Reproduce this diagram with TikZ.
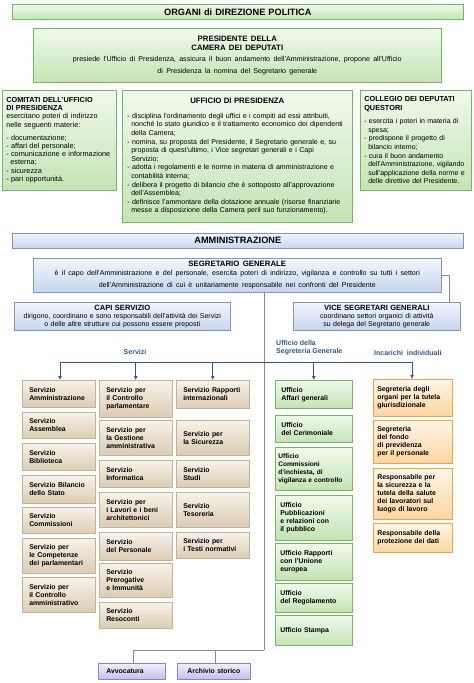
\documentclass[tikz,border=0pt]{standalone}
\usepackage{fontspec}
\setmainfont{Liberation Sans}
\usetikzlibrary{arrows.meta}
\definecolor{gT}{HTML}{F0F9EC}\definecolor{gB}{HTML}{C4E4B4}\definecolor{gD}{HTML}{6DBB5A}
\definecolor{bT}{HTML}{F2F6FC}\definecolor{bB}{HTML}{C6D6EE}\definecolor{bD}{HTML}{2E4F8F}
\definecolor{sT}{HTML}{F7F2EA}\definecolor{sB}{HTML}{DCCCB2}\definecolor{sD}{HTML}{C4B296}
\definecolor{oT}{HTML}{FFF5E6}\definecolor{oB}{HTML}{FCD6A0}\definecolor{oD}{HTML}{F2A040}
\definecolor{pT}{HTML}{F1EEFA}\definecolor{pB}{HTML}{C6BEEA}\definecolor{pD}{HTML}{8C80C8}
\definecolor{ln}{HTML}{2F5597}\definecolor{tr}{HTML}{8A8A8A}
\newcommand\boxfont{\fontsize{6.9}{8}\selectfont\bfseries}
\tikzset{
 gbox/.style={draw=gD,top color=gT,bottom color=gB,line width=0.6pt},
 bbox/.style={draw=bD!60,top color=bT,bottom color=bB,line width=0.6pt},
 sbox/.style={draw=sD,top color=sT,bottom color=sB,line width=0.5pt,font=\boxfont,align=left},
 ggbox/.style={gbox,font=\boxfont,align=left},
 obox/.style={draw=oD,top color=oT,bottom color=oB,line width=0.6pt,font=\boxfont,align=left},
 pbox/.style={draw=pD,top color=pT,bottom color=pB,line width=0.6pt,font=\boxfont,align=left},
 arr/.style={ln,line width=1pt,-{Latex[length=4pt,width=4pt]}},
 lab/.style={ln,font=\fontsize{7}{7.8}\selectfont\bfseries,align=left,inner sep=0pt},
}
\newcommand\mkbox[8][6]{\pgfmathsetmacro\bw{#5-#3}\pgfmathsetmacro\bh{#6-#4}\pgfmathsetmacro\tw{#5-#3-2*#1}%
\node[#2,minimum width=\bw pt,minimum height=\bh pt,text width=\tw pt,inner xsep=#1pt,inner ysep=1pt,anchor=north west] (#7) at (#3,#4) {#8};}
\begin{document}
\begin{tikzpicture}[x=1pt,y=-1pt]
\useasboundingbox (0,0) rectangle (474,683);
\mkbox{gbox,align=center,font=\fontsize{9.2}{10}\selectfont\bfseries}{12}{4}{463}{19}{t1}{ORGANI di DIREZIONE POLITICA}
\mkbox{gbox,align=center}{33}{28}{441}{82}{pres}{\fontsize{7.8}{8.6}\selectfont\bfseries PRESIDENTE DELLA\\CAMERA DEI DEPUTATI\\[2pt]\mdseries\fontsize{7.1}{9}\selectfont presiede l'Ufficio di Presidenza, assicura il buon andamento dell'Amministrazione, propone all'Ufficio\\ di Presidenza la nomina del Segretario generale}
\mkbox[4]{gbox,align=left,font=\fontsize{7}{8.6}\selectfont}{2}{90}{116}{190}{com}{\bfseries\fontsize{7.3}{8.2}\selectfont COMITATI DELL'UFFICIO\\DI PRESIDENZA\\\mdseries esercitano poteri di indirizzo\\nelle seguenti materie:\\[5pt]- documentazione;\\- affari del personale;\\- comunicazione e informazione\\\hspace*{4pt}esterna;\\- sicurezza\\- pari opportunità.}
\mkbox[5]{gbox,align=left,font=\fontsize{7.1}{8.6}\selectfont}{122}{90}{352}{222}{uff}{\hfill{\bfseries\fontsize{7.8}{8}\selectfont UFFICIO DI PRESIDENZA}\hfill\null\\[6pt]
- disciplina l'ordinamento degli uffici e i compiti ad essi attribuiti,\\\hspace*{4pt}nonché lo stato giuridico e il trattamento economico dei dipendenti\\\hspace*{4pt}della Camera;\\
- nomina, su proposta del Presidente, il Segretario generale e, su\\\hspace*{4pt}proposta di quest'ultimo, i Vice segretari generali e i Capi\\\hspace*{4pt}Servizio;\\
- adotta i regolamenti e le norme in materia di amministrazione e\\\hspace*{4pt}contabilità interna;\\
- delibera il progetto di bilancio che è sottoposto all'approvazione\\\hspace*{4pt}dell'Assemblea;\\
- definisce l'ammontare della dotazione annuale (risorse finanziarie\\\hspace*{4pt}messe a disposizione della Camera peril suo funzionamento).}
\mkbox[4]{gbox,align=left,font=\fontsize{7}{8.6}\selectfont}{360}{90}{471}{190}{col}{\bfseries\fontsize{7.3}{8.2}\selectfont COLLEGIO DEI DEPUTATI\\QUESTORI\\[5pt]\mdseries\fontsize{7}{8.6}\selectfont - esercita i poteri in materia di\\\hspace*{4pt}spesa;\\- predispone il progetto di\\\hspace*{4pt}bilancio interno;\\- cura il buon andamento\\\hspace*{4pt}dell'Amministrazione, vigilando\\\hspace*{4pt}sull'applicazione della norme e\\\hspace*{4pt}delle direttive del Presidente.\\[8pt]}
\mkbox{bbox,align=center,font=\fontsize{9.2}{10}\selectfont\bfseries}{12}{233}{463}{248}{t2}{AMMINISTRAZIONE}
\mkbox{bbox,align=center}{33}{258}{441}{292}{seg}{\fontsize{7.8}{8.8}\selectfont\bfseries SEGRETARIO GENERALE\\\mdseries\fontsize{7.1}{8.8}\selectfont è il capo dell'Amministrazione e del personale, esercita poteri di indirizzo, vigilanza e controllo su tutti i settori\\ dell'Amministrazione di cui è unitariamente responsabile nei confronti del Presidente}
\mkbox[3]{bbox,align=center,font=\fontsize{7}{8}\selectfont}{14}{302}{230}{330}{capi}{\bfseries\fontsize{7.6}{8.4}\selectfont CAPI SERVIZIO\\\mdseries\fontsize{7}{8}\selectfont dirigono, coordinano e sono responsabili dell'attività dei Servizi\\o delle altre strutture cui possono essere preposti}
\mkbox[3]{bbox,align=center,font=\fontsize{7}{8}\selectfont}{293}{302}{460}{330}{vice}{\bfseries\fontsize{7.6}{8.4}\selectfont VICE SEGRETARI GENERALI\\\mdseries\fontsize{7}{8}\selectfont coordinano settori organici di attività\\su delega del Segretario generale}
% connectors
\coordinate (sr) at (441,275); \coordinate (sk) at (449,275);
\draw[tr,line width=0.8pt] (sr) -- (sk) -- (vice.north -| sk);
\coordinate (tb) at (264,650);
\draw[tr,line width=0.8pt] (seg.south -| tb) -- (tb);
% services
\mkbox[7]{sbox}{22}{380}{95}{407}{s1}{Servizio\\Amministrazione}
\mkbox[7]{sbox}{22}{412}{95}{438}{s2}{Servizio\\Assemblea}
\mkbox[7]{sbox}{22}{443}{95}{470}{s3}{Servizio\\Biblioteca}
\mkbox[7]{sbox}{22}{475}{95}{503}{s4}{Servizio Bilancio\\dello Stato}
\mkbox[7]{sbox}{22}{507}{95}{533}{s5}{Servizio\\Commissioni}
\mkbox[7]{sbox}{22}{538}{95}{573}{s6}{Servizio per\\le Competenze\\dei parlamentari}
\mkbox[7]{sbox}{22}{577}{95}{612}{s7}{Servizio per\\il Controllo\\amministrativo}
\mkbox[7]{sbox}{99}{380}{172}{417}{c1}{Servizio per\\il Controllo\\parlamentare}
\mkbox[7]{sbox}{99}{420}{172}{455}{c2}{Servizio per\\la Gestione\\amministrativa}
\mkbox[7]{sbox}{99}{460}{172}{487}{c3}{Servizio\\Informatica}
\mkbox[7]{sbox}{99}{492}{172}{527}{c4}{Servizio per\\i Lavori e i beni\\architettonici}
\mkbox[7]{sbox}{99}{532}{172}{560}{c5}{Servizio\\del Personale}
\mkbox[7]{sbox}{99}{563}{172}{597}{c6}{Servizio\\Prerogative\\e Immunità}
\mkbox[7]{sbox}{99}{602}{172}{628}{c7}{Servizio\\Resoconti}
\mkbox[7]{sbox}{176}{380}{249}{408}{d1}{Servizio Rapporti\\internazionali}
\mkbox[7]{sbox}{176}{420}{249}{455}{d2}{Servizio per\\la Sicurezza}
\mkbox[7]{sbox}{176}{460}{249}{487}{d3}{Servizio\\Studi}
\mkbox[7]{sbox}{176}{492}{249}{527}{d4}{Servizio\\Tesoreria}
\mkbox[7]{sbox}{176}{532}{249}{558}{d5}{Servizio per\\i Testi normativi}
% uffici
\mkbox[6]{ggbox}{275}{380}{352}{408}{u1}{Ufficio\\Affari generali}
\mkbox[6]{ggbox}{275}{415}{352}{442}{u2}{Ufficio\\del Cerimoniale}
\mkbox[3]{ggbox,font=\fontsize{6.6}{8}\selectfont\bfseries}{275}{447}{352}{490}{u3}{Ufficio\\Commissioni\\d'inchiesta, di\\vigilanza e controllo}
\mkbox[5]{ggbox}{275}{495}{352}{540}{u4}{Ufficio\\Pubblicazioni\\e relazioni con\\il pubblico}
\mkbox[5]{ggbox}{275}{543}{352}{580}{u5}{Ufficio Rapporti\\con l'Unione\\europea}
\mkbox[5]{ggbox}{275}{583}{352}{612}{u6}{Ufficio\\del Regolamento}
\mkbox[5]{ggbox}{275}{615}{352}{645}{u7}{Ufficio Stampa}
% incarichi
\mkbox[4]{obox}{373}{379}{452}{416}{o1}{Segreteria degli\\organi per la tutela\\giurisdizionale}
\mkbox[4]{obox}{373}{420}{452}{463}{o2}{Segreteria\\del fondo\\di previdenza\\per il personale}
\mkbox[4]{obox}{373}{468}{452}{519}{o3}{Responsabile per\\la sicurezza e la\\tutela della salute\\dei lavoratori sul\\luogo di lavoro}
\mkbox[4]{obox}{373}{523}{452}{552}{o4}{Responsabile della\\protezione dei dati}
% bottom
\mkbox[8]{pbox}{98}{663}{165}{679}{av}{Avvocatura}
\mkbox[4]{pbox,align=center}{177}{663}{250}{679}{ar}{Archivio storico}
\coordinate (ja) at (133,650); \coordinate (jb) at (215,650);
\draw[tr,line width=0.8pt] (tb) -- (ja) -- (av.north -| ja);
\draw[tr,line width=0.8pt] (jb) -- (ar.north -| jb);
% blue distribution lines
\coordinate (h1) at (60,362); \coordinate (h2) at (412,362);
\draw[ln,line width=1pt] (h1) -- (h2);
\draw[arr] (h1) -- (s1.north -| h1);
\draw[arr] (c1.north |- h1) -- (c1.north);
\draw[arr] (d1.north |- h1) -- (d1.north);
\draw[arr] (u1.north |- h1) -- (u1.north);
\draw[arr] (h2) -- (o1.north -| h2);
\node[lab] (ls) at (135,352) {Servizi};
\node[lab,anchor=west] (lu) at (276,348) {Ufficio della\\Segreteria Generale};
\node[lab,anchor=west] (li) at (374,353) {Incarichi\ \ individuali};
\end{tikzpicture}
\end{document}
